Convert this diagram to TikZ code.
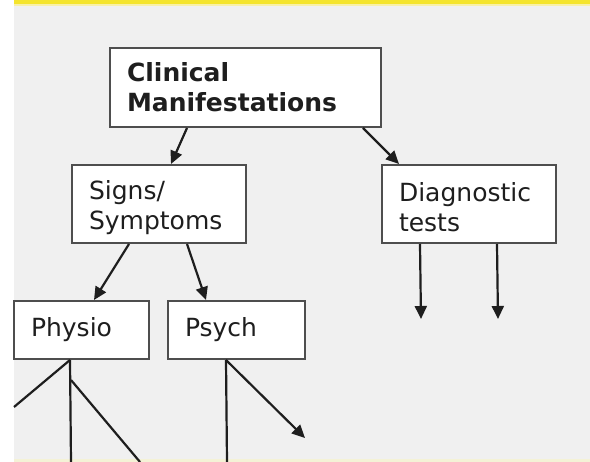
\documentclass[tikz,border=0pt]{standalone}
\usepackage{fontspec}
\setmainfont{DejaVu Sans}
\usetikzlibrary{arrows.meta}
\definecolor{bg}{HTML}{F0F0F0}
\definecolor{bandyellow}{HTML}{F4E42C}
\definecolor{bandpale}{HTML}{F8F0A8}
\definecolor{boxline}{HTML}{4E4E4E}
\definecolor{ink}{HTML}{1E1E1E}
\begin{document}
\begin{tikzpicture}[x=1pt,y=-1pt,
  box/.style={draw=boxline, line width=2pt, fill=white, align=left,
    inner xsep=17pt, inner ysep=0pt, text=ink,
    font=\fontsize{25}{30}\selectfont},
  link/.style={draw=ink, line width=2.2pt},
  arr/.style={link, -{Triangle[length=13pt,width=12pt]}}]
  \useasboundingbox (0,0) rectangle (590,462);
  % page background, top band and left margin
  \fill[white] (0,0) rectangle (590,462);
  \fill[bg] (14,0) rectangle (590,462);
  \fill[bandpale] (14,0) rectangle (590,6.5);
  \fill[bandyellow] (14,0) rectangle (590,4.5);
  \fill[yellow!12!bg] (14,459.5) rectangle (590,462);

  % boxes (the tall strut lowers the two-line texts a little)
  \node[box, minimum width=271pt, minimum height=79pt, text width=237pt] (clin) at (245.5,87.5)
    {\textbf{Clinical}\\\textbf{Manifestations}};
  \node[box, minimum width=174pt, minimum height=78pt, text width=140pt] (signs) at (159,204)
    {\rule{0pt}{26pt}Signs/\\Symptoms};
  \node[box, minimum width=174pt, minimum height=78pt, text width=140pt] (diag) at (469,204)
    {\rule{0pt}{26pt}Diagnostic\\tests};
  \node[box, minimum width=135pt, minimum height=58pt, text width=101pt] (physio) at (81.5,330)
    {Physio};
  \node[box, minimum width=137pt, minimum height=58pt, text width=103pt] (psych) at (236.5,330)
    {Psych};

  % open ends of the lower connectors
  \coordinate (d1) at (421,319);
  \coordinate (d2) at (498,319);
  \coordinate (p1) at (14,407);
  \coordinate (p2) at (71,462);
  \coordinate (p3a) at (71,380);
  \coordinate (p3b) at (140,462);
  \coordinate (q1) at (227,462);
  \coordinate (q2) at (305,438);

  % connectors
  \draw[arr] ([xshift=78pt]clin.south west) -- ([xshift=100pt]signs.north west);
  \draw[arr] ([xshift=254pt]clin.south west) -- ([xshift=18pt]diag.north west);
  \draw[arr] ([xshift=58pt]signs.south west) -- ([xshift=81pt]physio.north west);
  \draw[arr] ([xshift=116pt]signs.south west) -- ([xshift=39pt]psych.north west);
  \draw[arr] ([xshift=39pt]diag.south west) -- (d1);
  \draw[arr] ([xshift=116pt]diag.south west) -- (d2);
  \draw[link] ([xshift=57pt]physio.south west) -- (p1);
  \draw[link] ([xshift=57pt]physio.south west) -- (p2);
  \draw[link] (p3a) -- (p3b);
  \draw[link] ([xshift=59pt]psych.south west) -- (q1);
  \draw[arr] ([xshift=59pt]psych.south west) -- (q2);
\end{tikzpicture}
\end{document}
